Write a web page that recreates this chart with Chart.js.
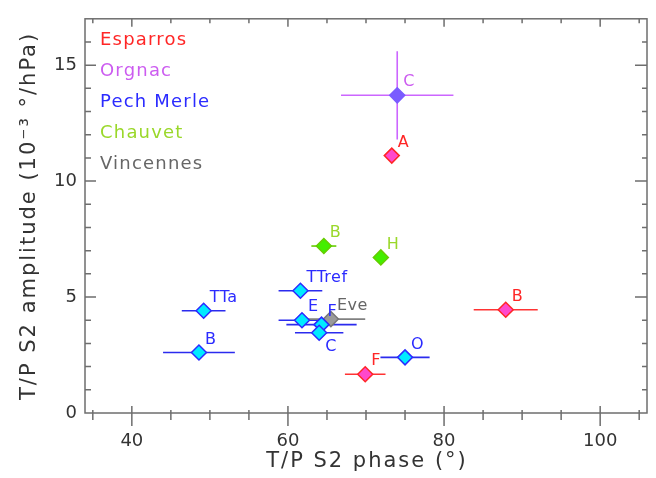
<!DOCTYPE html>
<html>
<head>
<meta charset="utf-8">
<script src="https://cdn.jsdelivr.net/npm/chart.js@4.4.1/dist/chart.umd.min.js"></script>
<style>
  html, body { margin: 0; padding: 0; background: #fff; }
  #wrap { width: 656px; height: 478px; position: relative; }
</style>
</head>
<body>
<div id="wrap"><canvas id="cave"></canvas></div>
<script>
// Axis ranges and labelled ticks
const xTicks = [40, 60, 80, 100];
const yTicks = [0, 5, 10, 15];
const xRange = [34, 106];
const yRange = [0, 17];
const xTitle = 'T/P S2 phase (°)';
const yTitle = 'T/P S2 amplitude (10⁻³ °/hPa)';

// Sites (legend order)
const siteNames = ['Esparros', 'Orgnac', 'Pech Merle', 'Chauvet', 'Vincennes'];

// Esparros
const esparrosNames = ['A', 'B', 'F'];
const esparrosPhase = [73.3, 87.9, 69.9];
const esparrosAmp = [11.1, 4.45, 1.67];
const esparrosPhaseErr = [0, 4.1, 2.6];
const esparrosAmpErr = [0, 0, 0];

// Orgnac
const orgnacNames = ['C'];
const orgnacPhase = [74.0];
const orgnacAmp = [13.7];
const orgnacPhaseErr = [7.2];
const orgnacAmpErr = [1.9];

// Pech Merle
const pechNames = ['TTref', 'TTa', 'B', 'E', 'F', 'C', 'O'];
const pechPhase = [61.6, 49.2, 48.6, 61.8, 64.3, 64.0, 75.0];
const pechAmp = [5.27, 4.41, 2.61, 4.0, 3.81, 3.46, 2.40];
const pechPhaseErr = [2.8, 2.8, 4.6, 3.0, 4.5, 3.1, 3.15];
const pechAmpErr = [0, 0, 0, 0, 0, 0, 0];

// Chauvet
const chauvetNames = ['B', 'H'];
const chauvetPhase = [64.6, 71.9];
const chauvetAmp = [7.2, 6.71];
const chauvetPhaseErr = [1.6, 0];
const chauvetAmpErr = [0, 0];

// Vincennes
const vincNames = ['Eve'];
const vincPhase = [65.5];
const vincAmp = [4.05];
const vincPhaseErr = [4.4];
const vincAmpErr = [0];

// Styles per site
const textColors = ['#ff2626', '#cc5cf0', '#2b2bff', '#9ad82a', '#666666'];
const fillColors = ['#ff48cc', '#7a5cff', '#00eaff', '#44ee00', '#9a9a9a'];
const edgeColors = ['#ff2626', '#7a5cff', '#2b2bff', '#66cc00', '#777777'];
const barColors  = ['#ff3333', '#cc66ff', '#2b2bee', '#66cc00', '#808080'];
const labelBelow = { 'Pech Merle:C': true };

const AXIS_COLOR = '#6e6e6e';
const FONT = "'DejaVu Sans', sans-serif";

function makeSet(i, names, phase, amp, pErr, aErr) {
    return {
        label: siteNames[i],
        data: phase.map((x, k) => ({ x: x, y: amp[k] })),
        names: names,
        phaseErr: pErr,
        ampErr: aErr,
        pointStyle: 'rectRot',
        pointRadius: 7.5,
        pointHoverRadius: 7.5,
        borderWidth: 1.5,
        backgroundColor: fillColors[i],
        borderColor: edgeColors[i],
        barColor: barColors[i],
        textColor: textColors[i]
    };
}

const datasets = [
    makeSet(0, esparrosNames, esparrosPhase, esparrosAmp, esparrosPhaseErr, esparrosAmpErr),
    makeSet(1, orgnacNames, orgnacPhase, orgnacAmp, orgnacPhaseErr, orgnacAmpErr),
    makeSet(2, pechNames, pechPhase, pechAmp, pechPhaseErr, pechAmpErr),
    makeSet(3, chauvetNames, chauvetPhase, chauvetAmp, chauvetPhaseErr, chauvetAmpErr),
    makeSet(4, vincNames, vincPhase, vincAmp, vincPhaseErr, vincAmpErr)
];

// Error bars, under the markers
const errorBars = {
    id: 'errorBars',
    beforeDatasetsDraw(chart) {
        const { ctx, scales: { x, y } } = chart;
        ctx.save();
        ctx.lineWidth = 1.6;
        chart.data.datasets.forEach(ds => {
            ctx.strokeStyle = ds.barColor;
            ds.data.forEach((p, k) => {
                const px = x.getPixelForValue(p.x);
                const py = y.getPixelForValue(p.y);
                const ex = ds.phaseErr[k], ey = ds.ampErr[k];
                ctx.beginPath();
                if (ex) {
                    ctx.moveTo(x.getPixelForValue(p.x - ex), py);
                    ctx.lineTo(x.getPixelForValue(p.x + ex), py);
                }
                if (ey) {
                    ctx.moveTo(px, y.getPixelForValue(p.y - ey));
                    ctx.lineTo(px, y.getPixelForValue(p.y + ey));
                }
                ctx.stroke();
            });
        });
        ctx.restore();
    }
};

// Frame, tick marks, axis titles, legend text and point names
const decorations = {
    id: 'decorations',
    afterDatasetsDraw(chart) {
        const { ctx, chartArea: a, scales: { x, y } } = chart;
        ctx.save();
        ctx.strokeStyle = AXIS_COLOR;
        ctx.lineWidth = 1.5;
        ctx.strokeRect(a.left, a.top, a.right - a.left, a.bottom - a.top);

        ctx.beginPath();
        for (let v = 35; v <= 105; v += 5) {
            const px = x.getPixelForValue(v);
            const major = v % 20 === 0;
            // bottom ticks cross the axis, top ones point inward
            ctx.moveTo(px, a.bottom - (major ? 7 : 3));
            ctx.lineTo(px, a.bottom + (major ? 13 : 7));
            ctx.moveTo(px, a.top);
            ctx.lineTo(px, a.top + (major ? 8 : 4.5));
        }
        for (let v = 1; v <= 16; v += 1) {
            const py = y.getPixelForValue(v);
            const major = v % 5 === 0;
            ctx.moveTo(a.left, py);
            ctx.lineTo(a.left + (major ? 11 : 6), py);
            ctx.moveTo(a.right, py);
            ctx.lineTo(a.right - (major ? 12 : 5), py);
        }
        ctx.stroke();

        // axis titles
        ctx.fillStyle = '#333';
        ctx.font = '21px ' + FONT;
        ctx.letterSpacing = '2px';
        ctx.textAlign = 'center';
        ctx.textBaseline = 'middle';
        ctx.fillText(xTitle, (a.left + a.right) / 2 + 1, 462);
        ctx.save();
        ctx.translate(30, (a.top + a.bottom) / 2);
        ctx.rotate(-Math.PI / 2);
        ctx.fillText(yTitle, 0, 0);
        ctx.restore();

        // legend
        ctx.font = '18px ' + FONT;
        ctx.letterSpacing = '1.2px';
        ctx.textAlign = 'left';
        chart.data.datasets.forEach((ds, i) => {
            ctx.fillStyle = ds.textColor;
            ctx.fillText(ds.label, a.left + 15, a.top + 22 + i * 31);
        });

        // point names
        ctx.font = '16px ' + FONT;
        ctx.letterSpacing = '0.5px';
        chart.data.datasets.forEach((ds, i) => {
            const meta = chart.getDatasetMeta(i);
            ctx.fillStyle = ds.textColor;
            meta.data.forEach((el, k) => {
                const below = labelBelow[ds.label + ':' + ds.names[k]];
                ctx.fillText(ds.names[k], el.x + 6, el.y + (below ? 14 : -13));
            });
        });
        ctx.restore();
    }
};

Chart.defaults.font.family = FONT;
Chart.defaults.color = '#333';

new Chart(document.getElementById('cave'), {
    type: 'scatter',
    data: { datasets: datasets },
    plugins: [errorBars, decorations],
    options: {
        responsive: true,
        maintainAspectRatio: false,
        animation: false,
        layout: { padding: { top: 12, right: 7, left: 0, bottom: 0 } },
        plugins: { legend: { display: false }, tooltip: { enabled: false } },
        scales: {
            x: {
                type: 'linear',
                min: xRange[0],
                max: xRange[1],
                afterBuildTicks: s => { s.ticks = xTicks.map(v => ({ value: v })); },
                afterFit: s => { s.height = 65; },
                grid: { display: false, drawTicks: false },
                border: { display: false },
                ticks: { padding: 18, color: '#333', font: { size: 18 }, maxRotation: 0 }
            },
            y: {
                type: 'linear',
                min: yRange[0],
                max: yRange[1],
                afterBuildTicks: s => { s.ticks = yTicks.map(v => ({ value: v })); },
                afterFit: s => { s.width = 85; },
                grid: { display: false, drawTicks: false },
                border: { display: false },
                ticks: { padding: 8, color: '#333', font: { size: 18 } }
            }
        }
    }
});
</script>
</body>
</html>
